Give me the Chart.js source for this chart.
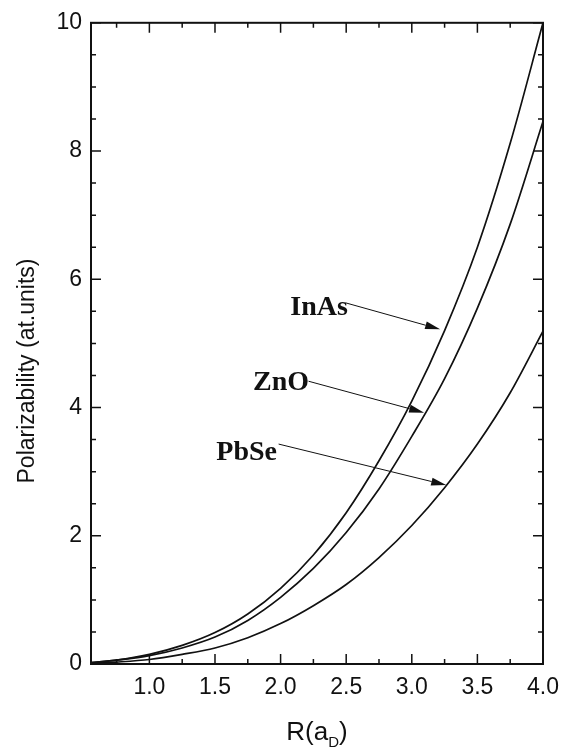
<!DOCTYPE html>
<html>
<head>
<meta charset="utf-8">
<script src="https://cdn.jsdelivr.net/npm/chart.js@4.4.0/dist/chart.umd.min.js"></script>
<style>
  html, body { margin: 0; padding: 0; background: #fff; }
</style>
</head>
<body>
<canvas id="chart" width="574" height="748"></canvas>
<script>
// R in units of a_D
const radius = [0.555, 0.75, 1.0, 1.25, 1.5, 1.75, 2.0, 2.25, 2.5, 2.75, 3.0, 3.25, 3.5, 3.75, 4.0];
const inAs = [0.02, 0.06, 0.15, 0.29, 0.49, 0.78, 1.18, 1.70, 2.36, 3.17, 4.10, 5.20, 6.50, 8.12, 10.0];
const znO  = [0.02, 0.06, 0.13, 0.25, 0.42, 0.68, 1.04, 1.49, 2.05, 2.73, 3.55, 4.45, 5.55, 6.86, 8.46];
const pbSe = [0.01, 0.03, 0.07, 0.15, 0.25, 0.41, 0.63, 0.91, 1.24, 1.66, 2.16, 2.75, 3.43, 4.23, 5.19];

const xTicks = [1.0, 1.5, 2.0, 2.5, 3.0, 3.5, 4.0];
const xMinor = [0.75, 1.25, 1.75, 2.25, 2.75, 3.25, 3.75];
const yTicks = [0, 2, 4, 6, 8, 10];
const yMinor = [0.5, 1, 1.5, 2.5, 3, 3.5, 4.5, 5, 5.5, 6.5, 7, 7.5, 8.5, 9, 9.5];

// labels with arrows (data coords)
const noteNames = ['InAs', 'ZnO', 'PbSe'];
const noteText = [[2.074, 5.45], [1.79, 4.27], [1.51, 3.18]];
const noteFrom = [[2.50, 5.63], [2.213, 4.41], [1.985, 3.43]];
const noteTo = [[3.216, 5.22], [3.094, 3.92], [3.262, 2.79]];

const ink = '#111';
const sans = '"Liberation Sans", Arial, sans-serif';

function series(label, values) {
  return {
    label: label,
    data: radius.map((r, i) => ({ x: r, y: values[i] })),
    borderColor: ink,
    borderWidth: 1.7,
    pointRadius: 0,
    fill: false,
    cubicInterpolationMode: 'monotone'
  };
}

const framePlugin = {
  id: 'frame',
  afterDatasetsDraw(chart) {
    const c = chart.ctx;
    const a = chart.chartArea;
    const xs = chart.scales.x, ys = chart.scales.y;
    c.save();
    c.strokeStyle = ink;
    c.lineWidth = 2;
    c.strokeRect(a.left, a.top, a.right - a.left, a.bottom - a.top);
    c.lineWidth = 1.5;
    c.beginPath();
    const tickX = (vals, len) => vals.forEach(v => {
      const px = xs.getPixelForValue(v);
      c.moveTo(px, a.bottom); c.lineTo(px, a.bottom - len);
      c.moveTo(px, a.top); c.lineTo(px, a.top + len);
    });
    const tickY = (vals, len) => vals.forEach(v => {
      const py = ys.getPixelForValue(v);
      c.moveTo(a.left, py); c.lineTo(a.left + len, py);
      c.moveTo(a.right, py); c.lineTo(a.right - len, py);
    });
    tickX(xTicks, 10); tickX(xMinor, 5);
    tickY(yTicks, 10); tickY(yMinor, 5);
    c.stroke();

    // annotations
    c.font = 'bold 28px "Liberation Serif", "Times New Roman", serif';
    c.fillStyle = ink;
    c.textBaseline = 'alphabetic';
    noteNames.forEach((name, i) => {
      c.fillText(name, xs.getPixelForValue(noteText[i][0]), ys.getPixelForValue(noteText[i][1]));
      const x0 = xs.getPixelForValue(noteFrom[i][0]), y0 = ys.getPixelForValue(noteFrom[i][1]);
      const x1 = xs.getPixelForValue(noteTo[i][0]), y1 = ys.getPixelForValue(noteTo[i][1]);
      const ang = Math.atan2(y1 - y0, x1 - x0);
      const hl = 15, hw = 4;
      c.lineWidth = 1;
      c.beginPath();
      c.moveTo(x0, y0);
      c.lineTo(x1 - hl * Math.cos(ang), y1 - hl * Math.sin(ang));
      c.stroke();
      c.beginPath();
      c.moveTo(x1, y1);
      c.lineTo(x1 - hl * Math.cos(ang) + hw * Math.sin(ang), y1 - hl * Math.sin(ang) - hw * Math.cos(ang));
      c.lineTo(x1 - hl * Math.cos(ang) - hw * Math.sin(ang), y1 - hl * Math.sin(ang) + hw * Math.cos(ang));
      c.closePath();
      c.fill();
    });

    // axis titles
    c.font = '23px ' + sans;
    c.textAlign = 'center';
    c.textBaseline = 'middle';
    c.save();
    c.translate(28, 371);
    c.rotate(-Math.PI / 2);
    c.fillText('Polarizability (at.units)', 0, 0);
    c.restore();

    const cx = (a.left + a.right) / 2;
    const base = 740;
    c.textAlign = 'left';
    c.textBaseline = 'alphabetic';
    c.font = '26px ' + sans;
    const w1 = c.measureText('R(a').width;
    const w3 = c.measureText(')').width;
    c.font = '15px ' + sans;
    const w2 = c.measureText('D').width;
    let x = cx - (w1 + w2 + w3) / 2;
    c.font = '26px ' + sans;
    c.fillText('R(a', x, base);
    x += w1;
    c.font = '15px ' + sans;
    c.fillText('D', x, base + 7);
    x += w2;
    c.font = '26px ' + sans;
    c.fillText(')', x, base);
    c.restore();
  }
};

new Chart(document.getElementById('chart'), {
  type: 'line',
  data: {
    datasets: [series('InAs', inAs), series('ZnO', znO), series('PbSe', pbSe)]
  },
  options: {
    responsive: false,
    animation: false,
    devicePixelRatio: 1,
    layout: { padding: { top: 16, right: 31, left: 0, bottom: 0 } },
    plugins: { legend: { display: false }, tooltip: { enabled: false } },
    scales: {
      x: {
        type: 'linear',
        min: 0.555,
        max: 4.0,
        afterBuildTicks: s => { s.ticks = xTicks.map(v => ({ value: v })); },
        afterFit: s => { s.height = 84; },
        grid: { display: false, drawTicks: false },
        border: { display: false },
        ticks: {
          callback: v => v.toFixed(1),
          font: { family: sans, size: 23 },
          color: ink,
          padding: 10,
          maxRotation: 0,
          autoSkip: false
        }
      },
      y: {
        min: 0,
        max: 10,
        afterBuildTicks: s => { s.ticks = yTicks.map(v => ({ value: v })); },
        afterFit: s => { s.width = 91; },
        grid: { display: false, drawTicks: false },
        border: { display: false },
        ticks: {
          font: { family: sans, size: 23 },
          color: ink,
          padding: 9
        }
      }
    }
  },
  plugins: [framePlugin]
});
</script>
</body>
</html>
